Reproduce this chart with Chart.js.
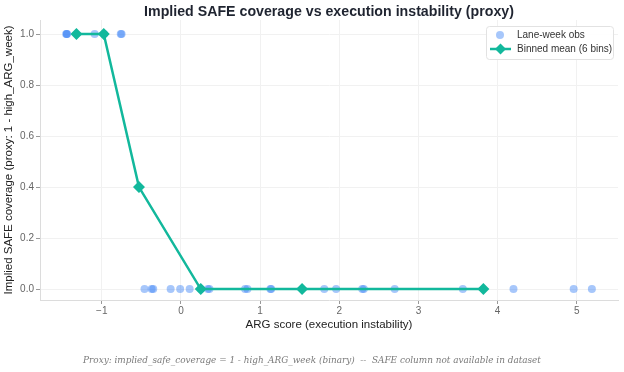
<!DOCTYPE html>
<html><head><meta charset="utf-8">
<script src="https://cdn.jsdelivr.net/npm/chart.js@4.4.1/dist/chart.umd.min.js"></script>
<style>html,body{margin:0;padding:0;background:#fff}#wrap{width:624px;height:372px}</style>
</head><body><div id="wrap"><canvas id="c" width="624" height="372"></canvas></div>
<script>
const obsX = [-1.45,-1.44,-1.44,-1.09,-0.97,-0.76,-0.75,
  -0.46,-0.37,-0.35,-0.13,-0.01,0.11,0.25,0.34,0.36,0.81,0.84,1.13,1.14,1.81,1.96,2.29,2.31,2.70,3.56,4.20,4.96,5.19];
const obsY = [1,1,1,1,1,1,1,
  0,0,0,0,0,0,0,0,0,0,0,0,0,0,0,0,0,0,0,0,0,0];
const binX = [-1.32,-0.975,-0.53,0.25,1.53,3.82];
const binY = [1.0,1.0,0.40,0.0,0.0,0.0];
const xTicks = [-1,0,1,2,3,4,5];
const yTicks = [0,0.2,0.4,0.6,0.8,1.0];

const TITLE = 'Implied SAFE coverage vs execution instability (proxy)';
const FOOTER = 'Proxy: implied_safe_coverage = 1 - high_ARG_week (binary)  --  SAFE column not available in dataset';
const TEAL = '#12b89c';
const PT = 'rgba(59,130,246,0.45)';
const FONT = "'Liberation Sans', Arial, sans-serif";

const legendBox = {
  id:'legendBox',
  afterDraw(chart){
    const ctx = chart.ctx, a = chart.chartArea;
    const w = 127, h = 33, x = a.right - w - 5, y = a.top + 6;
    ctx.save();
    ctx.fillStyle = 'rgba(255,255,255,0.9)';
    ctx.strokeStyle = '#e2e2e2'; ctx.lineWidth = 1;
    ctx.beginPath(); ctx.roundRect(x+0.5,y+0.5,w,h,3); ctx.fill(); ctx.stroke();
    const r1 = y + 9, r2 = y + 23;
    ctx.fillStyle = PT; ctx.beginPath(); ctx.arc(x+14, r1, 4, 0, Math.PI*2); ctx.fill();
    ctx.strokeStyle = TEAL; ctx.lineWidth = 2.5;
    ctx.beginPath(); ctx.moveTo(x+4, r2); ctx.lineTo(x+25, r2); ctx.stroke();
    ctx.fillStyle = TEAL; ctx.beginPath();
    ctx.moveTo(x+14.5, r2-5.5); ctx.lineTo(x+20, r2); ctx.lineTo(x+14.5, r2+5.5); ctx.lineTo(x+9, r2); ctx.closePath(); ctx.fill();
    ctx.fillStyle = '#333'; ctx.font = '10px ' + FONT; ctx.textBaseline = 'middle';
    ctx.fillText('Lane-week obs', x+31, r1);
    ctx.fillText('Binned mean (6 bins)', x+31, r2);
    ctx.restore();
  }
};
const texts = {
  id:'texts',
  afterDraw(chart){
    const ctx = chart.ctx, a = chart.chartArea;
    ctx.save();
    ctx.textAlign = 'center'; ctx.textBaseline = 'middle';
    ctx.fillStyle = '#1f2430'; ctx.font = "bold 14.2px " + FONT;
    ctx.fillText(TITLE, (a.left + a.right) / 2, 12);
    ctx.fillStyle = '#7a7a7a'; ctx.font = "italic 8.9px 'DejaVu Serif', serif";
    ctx.fillText(FOOTER, 312, 361);
    ctx.restore();
  }
};

new Chart(document.getElementById('c'), {
  data: {
    datasets: [
      { type:'scatter', label:'Lane-week obs', data: obsX.map((x,i)=>({x, y: obsY[i]})),
        backgroundColor: PT, borderWidth: 0, pointRadius: 4, pointHoverRadius: 4, order: 2 },
      { type:'line', label:'Binned mean (6 bins)', data: binX.map((x,i)=>({x, y: binY[i]})),
        borderColor: TEAL, backgroundColor: TEAL, borderWidth: 2.5, pointStyle: 'rectRot',
        pointRadius: 6, pointBorderWidth: 0, tension: 0, fill: false, order: 1 }
    ]
  },
  options: {
    responsive: false, animation: false,
    layout: { padding: { left: 0, right: 6, top: 20, bottom: 40 } },
    plugins: { legend: { display: false }, tooltip: { enabled: false }, title: { display: false } },
    scales: {
      x: { type:'linear', min: -1.78, max: 5.52,
        afterBuildTicks: s => { s.ticks = xTicks.map(v => ({value: v})); },
        afterFit: s => { s.height = 32; },
        ticks: { color:'#666', font:{family:FONT,size:10}, padding: 1,
          callback: v => (v < 0 ? '\u2212' + Math.abs(v) : String(v)) },
        grid: { color:'#f1f1f1', tickLength: 4, tickColor:'#999' },
        border: { color:'#dcdcdc' },
        title: { display:true, text:'ARG score (execution instability)', color:'#222',
          font:{family:FONT,size:11.5}, padding:{top:0,bottom:0} }
      },
      y: { type:'linear', min: -0.043, max: 1.055,
        afterBuildTicks: s => { s.ticks = yTicks.map(v => ({value: v})); },
        afterFit: s => { s.width = 40; },
        ticks: { color:'#666', font:{family:FONT,size:10}, padding: 2, callback: v => v.toFixed(1) },
        grid: { color:'#f1f1f1', tickLength: 4, tickColor:'#999' },
        border: { color:'#dcdcdc' },
        title: { display:true, text:'Implied SAFE coverage (proxy: 1 - high_ARG_week)', color:'#222',
          font:{family:FONT,size:11.5}, padding:{top:2,bottom:0} }
      }
    }
  },
  plugins: [legendBox, texts]
});
</script></body></html>
